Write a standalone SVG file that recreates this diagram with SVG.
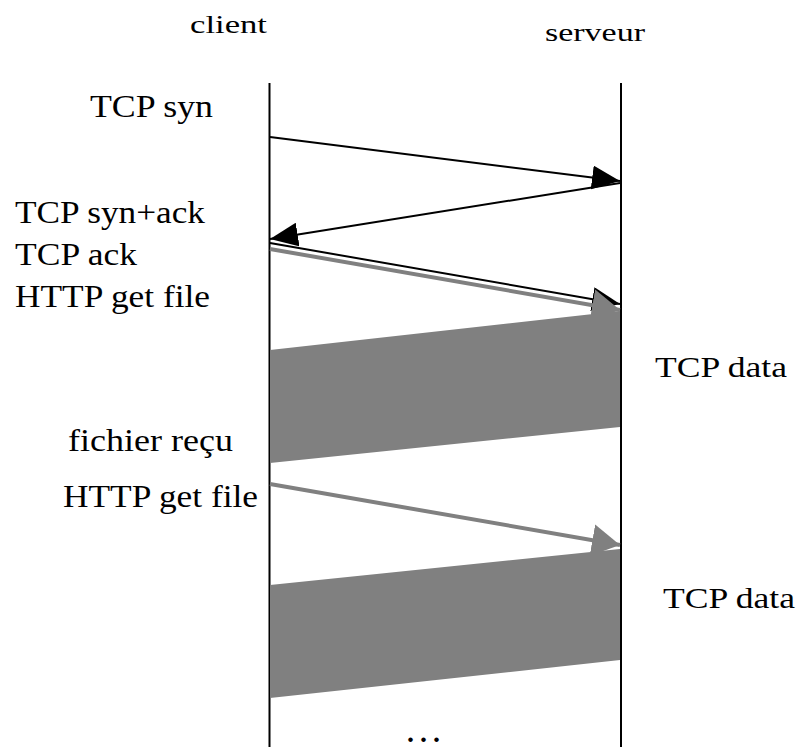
<svg xmlns="http://www.w3.org/2000/svg" width="799" height="747" viewBox="0 0 799 747">
  <style>
    text { font-family: "Liberation Serif", "Times New Roman", serif; fill: #000; }
    .title { font-size: 25px; }
    .msg { font-size: 32px; }
    .data { font-size: 30px; }
    .life { stroke: #000; stroke-width: 2; fill: none; }
    .blk { stroke: #000; stroke-width: 2; fill: none; marker-end: url(#headBlack); }
    .gry { stroke: #808080; stroke-width: 4; fill: none; marker-end: url(#headGrey); }
    .band { fill: #808080; stroke: none; }
  </style>
  <defs>
    <marker id="headBlack" markerUnits="userSpaceOnUse" viewBox="0 0 28 24" markerWidth="28" markerHeight="24" refX="28" refY="12" orient="auto">
      <path d="M0,0 L28,12 L0,24 z" fill="#000"/>
    </marker>
    <marker id="headGrey" markerUnits="userSpaceOnUse" viewBox="0 0 28 32" markerWidth="28" markerHeight="32" refX="28" refY="16" orient="auto">
      <path d="M0,0 L28,16 L0,32 z" fill="#808080"/>
    </marker>
  </defs>

  <rect width="799" height="747" fill="#fff"/>

  <!-- lifelines -->
  <g id="client">
    <text class="title" x="190" y="33" textLength="77" lengthAdjust="spacingAndGlyphs">client</text>
    <line class="life" x1="269.5" y1="83" x2="269.5" y2="747"/>
  </g>
  <g id="serveur">
    <text class="title" x="545" y="41" textLength="100" lengthAdjust="spacingAndGlyphs">serveur</text>
    <line class="life" x1="621" y1="83" x2="621" y2="747"/>
  </g>

  <!-- message arrows and data transfers -->
  <g id="connectors">
    <line class="blk" x1="270" y1="137" x2="620" y2="181"/>
    <line class="blk" x1="620" y1="183" x2="270" y2="239"/>
    <line class="blk" x1="270" y1="243" x2="620" y2="304"/>
    <line class="gry" x1="270" y1="249" x2="620" y2="310"/>
    <polygon class="band" points="270,350 620,311 620,427 270,463"/>
    <line class="gry" x1="270" y1="484" x2="620" y2="545"/>
    <polygon class="band" points="270,585 620,549 620,660 270,698"/>
  </g>

  <!-- message labels -->
  <g id="labels">
    <text class="msg" x="90" y="117" textLength="123" lengthAdjust="spacingAndGlyphs">TCP syn</text>
    <text class="msg" x="15" y="223" textLength="190" lengthAdjust="spacingAndGlyphs">TCP syn+ack</text>
    <text class="msg" x="15" y="265" textLength="122" lengthAdjust="spacingAndGlyphs">TCP ack</text>
    <text class="msg" x="15" y="307" textLength="195" lengthAdjust="spacingAndGlyphs">HTTP get file</text>
    <text class="data" x="655" y="377" textLength="132" lengthAdjust="spacingAndGlyphs">TCP data</text>
    <text class="msg" x="68" y="451" textLength="165" lengthAdjust="spacingAndGlyphs">fichier reçu</text>
    <text class="msg" x="63" y="507" textLength="195" lengthAdjust="spacingAndGlyphs">HTTP get file</text>
    <text class="data" x="663" y="608" textLength="132" lengthAdjust="spacingAndGlyphs">TCP data</text>
    <text x="407" y="742" font-size="28" font-weight="bold" textLength="33" lengthAdjust="spacing">...</text>
  </g>
</svg>
